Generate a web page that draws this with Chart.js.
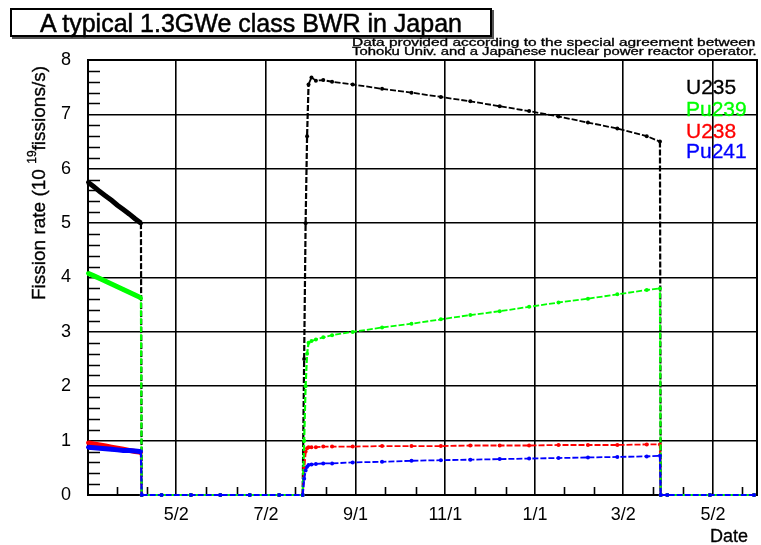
<!DOCTYPE html>
<html>
<head>
<meta charset="utf-8">
<script src="https://cdn.jsdelivr.net/npm/chart.js@4"></script>
<style>
  html, body { margin: 0; padding: 0; background: #fff; }
  #wrap { position: relative; width: 761px; height: 545px; font-family: "Liberation Sans", Arial, Helvetica, sans-serif; color: #000; }
  #wrap canvas { position: absolute; left: 0; top: 0; }
  .title { position: absolute; left: 10px; top: 8px; width: 478px; height: 25px; border: 2px solid #000;
           box-shadow: 2px 2px 0 #555; background: #fff; font-size: 25px; line-height: 26px; text-align: center;
           -webkit-text-stroke: 0.5px #000; }
  .note { position: absolute; left: 352px; font-size: 10px; line-height: 10px; white-space: nowrap;
          transform-origin: 0 0; -webkit-text-stroke: 0.3px #000; }
  .leg { position: absolute; left: 686px; font-size: 21px; line-height: 22px; -webkit-text-stroke: 0.3px currentColor; }
  .ytitle { position: absolute; left: -90px; top: 172px; width: 244px; height: 22px; font-size: 19px; line-height: 22px;
            text-align: center; white-space: nowrap; transform: rotate(-90deg); -webkit-text-stroke: 0.3px #000; }
  .ytitle sup { font-size: 12px; vertical-align: 9px; }
  .xtitle { position: absolute; left: 710px; top: 527px; font-size: 18px; line-height: 18px; -webkit-text-stroke: 0.3px #000; }
</style>
</head>
<body>
<div id="wrap">
  <canvas id="chart" width="761" height="545"></canvas>
  <div class="title">A typical 1.3GWe class BWR in Japan</div>
  <div class="note" id="note1" style="top:38px">Data provided according to the special agreement between</div>
  <div class="note" id="note2" style="top:47px">Tohoku Univ. and a Japanese nuclear power reactor operator.</div>
  <div class="leg" style="top:76px;color:#000">U235</div>
  <div class="leg" style="top:98px;color:#00ff00">Pu239</div>
  <div class="leg" style="top:120px;color:#ff0000">U238</div>
  <div class="leg" style="top:140px;color:#0000ff">Pu241</div>
  <div class="ytitle">Fission rate (10 <sup>19</sup>fissions/s)</div>
  <div class="xtitle">Date</div>
</div>
<script>
// days counted from 5/2 (first x tick)
const days  = [-60,-56,-52,-48,-44,-40,-36,-32,-28,-25,-24,-23.5,
               -10,10,30,50,70,86,
               87,88,89,90,92,95,100,106,
               120,140,160,180,200,220,240,260,280,300,320,329,
               329.5,334,363,393];
const u235  = [5.75,5.67,5.58,5.50,5.42,5.33,5.25,5.17,5.08,5.02,5.00,0,
               0,0,0,0,0,0,
               2.5,5.0,6.6,7.55,7.68,7.62,7.63,7.60,
               7.55,7.47,7.40,7.32,7.24,7.15,7.06,6.96,6.85,6.74,6.60,6.50,
               0,0,0,0];
const pu239 = [4.08,4.03,3.98,3.93,3.88,3.83,3.78,3.73,3.68,3.64,3.62,0,
               0,0,0,0,0,0,
               1.0,2.0,2.6,2.8,2.83,2.86,2.90,2.94,
               3.00,3.08,3.15,3.23,3.31,3.38,3.46,3.54,3.61,3.69,3.77,3.80,
               0,0,0,0];
const u238  = [0.96,0.94,0.92,0.90,0.88,0.86,0.84,0.82,0.80,0.79,0.78,0,
               0,0,0,0,0,0,
               0.5,0.80,0.86,0.88,0.88,0.88,0.89,0.89,
               0.89,0.90,0.90,0.90,0.91,0.91,0.91,0.92,0.92,0.92,0.93,0.93,
               0,0,0,0];
const pu241 = [0.88,0.87,0.86,0.85,0.84,0.83,0.82,0.82,0.81,0.80,0.80,0,
               0,0,0,0,0,0,
               0.3,0.45,0.52,0.55,0.56,0.57,0.58,0.58,
               0.60,0.61,0.63,0.64,0.65,0.66,0.67,0.68,0.69,0.70,0.71,0.72,
               0,0,0,0];

const tickDays   = [0, 61, 122, 183, 244, 304, 365];
const tickLabels = ['5/2','7/2','9/1','11/1','1/1','3/2','5/2'];
const minorDays  = [-40,-20,20,41,81,102,142,163,203,224,264,284,324,345,385];

const pts = arr => days.map((d, i) => ({ x: d, y: arr[i] }));

function series(label, arr, color, order, offset) {
  return {
    label, data: pts(arr), order, clip: 6,
    borderColor: color, backgroundColor: color,
    pointBackgroundColor: color, pointBorderWidth: 0,
    pointRadius: 2, pointHoverRadius: 0,
    borderWidth: 1.8, borderDashOffset: offset,
    segment: {
      // first cycle drawn thick (dense measurements), rest as ROOT dashed line
      borderWidth: c => c.p1.parsed.x <= -24 ? 5 : (Math.abs(c.p1.parsed.x - c.p0.parsed.x) < 1.1 ? 2.2 : 1.8),
      borderDash: c => c.p1.parsed.x <= -24 ? [] : [6, 2]
    }
  };
}

// frame and inner minor ticks, ROOT style (drawn under the data)
const frame = {
  id: 'frame',
  beforeDatasetsDraw(chart) {
    const { ctx, chartArea: a, scales: { x, y } } = chart;
    ctx.save();
    ctx.strokeStyle = '#000';
    ctx.lineWidth = 1.6;
    ctx.beginPath();
    for (let v = 0.2; v < 8; v += 0.2) {
      if (Math.abs(v - Math.round(v)) < 0.01) continue;
      const py = Math.round(y.getPixelForValue(v)) + 0.5;
      ctx.moveTo(a.left, py); ctx.lineTo(a.left + 12, py);
    }
    minorDays.forEach(d => {
      const px = Math.round(x.getPixelForValue(d)) + 0.5;
      ctx.moveTo(px, a.bottom); ctx.lineTo(px, a.bottom - 8);
    });
    ctx.stroke();
    ctx.lineWidth = 2;
    ctx.strokeRect(a.left, a.top, a.right - a.left, a.bottom - a.top);
    ctx.restore();
  }
};

Chart.defaults.font.family = '"Liberation Sans", Arial, Helvetica, sans-serif';
Chart.defaults.color = '#000';

new Chart(document.getElementById('chart'), {
  type: 'line',
  data: {
    datasets: [
      series('U235',  u235,  '#000000', 4, 0),
      series('Pu239', pu239, '#00ff00', 2, 4),
      series('U238',  u238,  '#ff0000', 3, 2),
      series('Pu241', pu241, '#0000ff', 1, 0)
    ]
  },
  options: {
    responsive: false,
    animation: false,
    layout: { padding: { top: 60, right: 4, left: 0, bottom: 0 } },
    plugins: { legend: { display: false }, tooltip: { enabled: false } },
    scales: {
      x: {
        type: 'linear', min: -60, max: 395,
        afterBuildTicks: s => { s.ticks = tickDays.map(v => ({ value: v })); },
        afterFit: s => { s.height = 50; },
        ticks: {
          autoSkip: false, maxRotation: 0, padding: 9,
          font: { size: 18 },
          callback: v => tickLabels[tickDays.indexOf(v)]
        },
        grid: { color: '#000', lineWidth: 1.6, drawTicks: false },
        border: { color: '#000', width: 2 }
      },
      y: {
        min: 0, max: 8,
        afterFit: s => { s.width = 88; },
        ticks: { stepSize: 1, padding: 17, font: { size: 18 } },
        grid: { color: '#000', lineWidth: 1.6, drawTicks: false },
        border: { color: '#000', width: 2 }
      }
    }
  },
  plugins: [frame]
});

// squeeze the agreement note into its box like the original
[['note1', 403], ['note2', 405]].forEach(([id, w]) => {
  const el = document.getElementById(id);
  el.style.transform = 'scaleX(' + (w / el.scrollWidth) + ')';
});
</script>
</body>
</html>
